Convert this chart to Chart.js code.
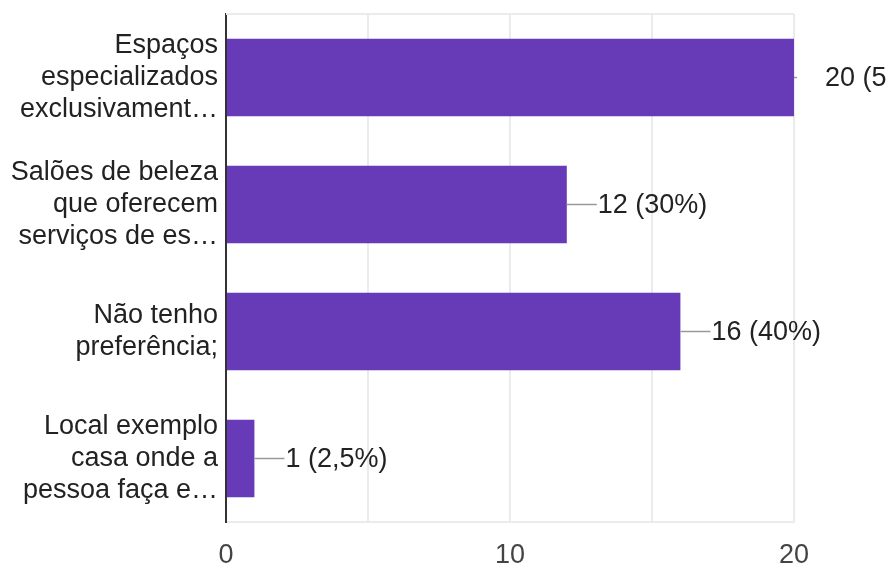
<!DOCTYPE html>
<html>
<head>
<meta charset="utf-8">
<script src="https://cdn.jsdelivr.net/npm/chart.js@4"></script>
<style>
  html, body { margin: 0; padding: 0; background: #fff; }
  #wrap { width: 886px; height: 565px; position: relative; }
</style>
</head>
<body>
<div id="wrap"><canvas id="chart"></canvas></div>
<script>
const categories = [
  ["Espaços", "especializados", "exclusivament…"],
  ["Salões de beleza", "que oferecem", "serviços de es…"],
  ["Não tenho", "preferência;"],
  ["Local exemplo", "casa onde a", "pessoa faça e…"]
];
const counts = [20, 12, 16, 1];
const respondents = 40;
const xTicks = [0, 10, 20];

const FONT = "'Liberation Sans', Arial, sans-serif";

// "12 (30%)" style text, decimal comma like the form summary
function valueLabel(v) {
  const pct = Math.round(v / respondents * 1000) / 10;
  return v + " (" + String(pct).replace(".", ",") + "%)";
}

// frame line on top + leader lines and value text beside each bar
const barNotes = {
  id: "barNotes",
  beforeDatasetsDraw(chart) {
    const { ctx, chartArea } = chart;
    ctx.save();
    ctx.strokeStyle = "#ebebeb";
    ctx.lineWidth = 2;
    ctx.beginPath();
    ctx.moveTo(chartArea.left, chartArea.top);
    ctx.lineTo(chartArea.right, chartArea.top);
    ctx.stroke();
    ctx.restore();
  },
  afterDatasetsDraw(chart) {
    const { ctx, chartArea } = chart;
    const meta = chart.getDatasetMeta(0);
    meta.data.forEach((bar, i) => {
      const x0 = bar.x, y = bar.y;
      ctx.save();
      ctx.beginPath();
      ctx.rect(chartArea.left, 0, chartArea.right - chartArea.left + 3, chart.height);
      ctx.clip();
      ctx.strokeStyle = "#999";
      ctx.lineWidth = 1.5;
      ctx.beginPath();
      ctx.moveTo(x0, y);
      ctx.lineTo(x0 + 30, y);
      ctx.stroke();
      ctx.restore();

      ctx.save();
      ctx.fillStyle = "#222";
      ctx.font = "27px " + FONT;
      ctx.textAlign = "left";
      ctx.textBaseline = "middle";
      ctx.fillText(valueLabel(counts[i]), x0 + 31, y + 1);
      ctx.restore();
    });
  }
};

new Chart(document.getElementById("chart"), {
  type: "bar",
  data: {
    labels: categories,
    datasets: [{
      data: counts,
      backgroundColor: "#673ab7",
      borderWidth: 0,
      categoryPercentage: 1,
      barPercentage: 0.61
    }]
  },
  options: {
    indexAxis: "y",
    responsive: true,
    maintainAspectRatio: false,
    animation: false,
    layout: { padding: { top: 14, right: 92, left: 0, bottom: 0 } },
    plugins: {
      legend: { display: false },
      tooltip: { enabled: false }
    },
    scales: {
      x: {
        min: 0,
        max: 20,
        afterFit(scale) {
          scale.height = 43;
          scale.paddingLeft = 0;
          scale.paddingRight = 0;
        },
        ticks: {
          stepSize: 5,
          padding: 17,
          color: "#444",
          font: { family: FONT, size: 27 },
          callback: v => xTicks.includes(v) ? v : ""
        },
        grid: {
          drawTicks: false,
          lineWidth: 2,
          color: ctx => ctx.tick && ctx.tick.value === 0 ? "rgba(0,0,0,0)" : "#ebebeb"
        },
        border: { display: true, color: "#ebebeb", width: 2 }
      },
      y: {
        afterFit(scale) {
          scale.width = 226;
          scale.paddingTop = 0;
          scale.paddingBottom = 0;
        },
        ticks: {
          padding: 8,
          color: "#222",
          font: { family: FONT, size: 27, lineHeight: 1.17 }
        },
        grid: { display: false, drawTicks: false },
        border: { display: true, color: "#333", width: 2 }
      }
    }
  },
  plugins: [barNotes]
});
</script>
</body>
</html>
